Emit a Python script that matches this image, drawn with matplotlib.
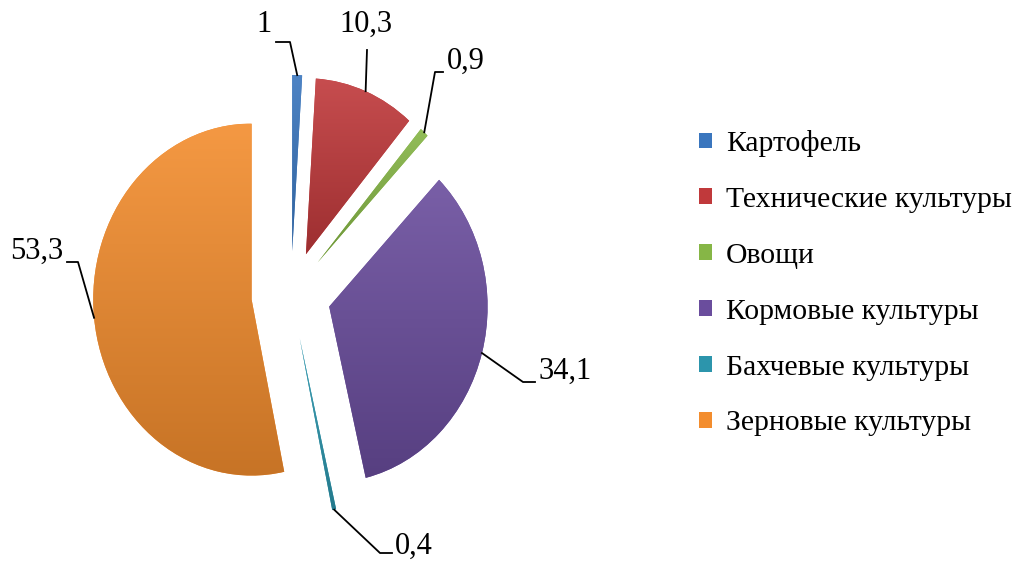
import matplotlib.pyplot as plt
import numpy as np
from matplotlib.colors import to_rgb

# структура посевных площадей, %
categories = ['Картофель', 'Технические культуры', 'Овощи',
              'Кормовые культуры', 'Бахчевые культуры', 'Зерновые культуры']
shares = [1, 10.3, 0.9, 34.1, 0.4, 53.3]
value_labels = ['1', '10,3', '0,9', '34,1', '0,4', '53,3']
colors = ['#3A76BE', '#C0393B', '#86B646', '#6A4D9D', '#2C95AC', '#F38D2E']

W, H = 1017, 563
SX = 0.9  # круг чуть сжат по горизонтали


def px(x, y):
    # пиксели картинки -> координаты осей
    return x / SX, H - y


plt.rcParams['font.family'] = ['Liberation Serif', 'DejaVu Serif']

fig = plt.figure(figsize=(W / 100, H / 100), dpi=100)
ax = fig.add_axes([0, 0, 1, 1])

R = 176
# explode в pie задаётся в единицах данных
wedges, _ = ax.pie(shares, explode=[44] * len(shares), startangle=90,
                   counterclock=False, radius=R, center=px(291, 295),
                   colors=colors, frame=True, wedgeprops=dict(linewidth=0))

# заливка с вертикальным градиентом (светлее сверху, темнее снизу)
for w, c in zip(wedges, colors):
    base = np.array(to_rgb(c))
    top = base + (1 - base) * 0.10
    bot = base * 0.82
    t = np.linspace(0, 1, 64)[:, None]
    grad = top * (1 - t) + bot * t
    img = np.repeat(grad[:, None, :], 2, axis=1)
    ext = w.get_path().get_extents()
    im = ax.imshow(img, extent=(ext.x0, ext.x1, ext.y0, ext.y1),
                   origin='upper', aspect='auto', interpolation='bilinear',
                   zorder=2)
    im.set_clip_path(w)

# подписи значений с выносками
label_pos = [(264, 24), (366, 24), (466, 61), (565, 371), (414, 546), (37, 251)]
leaders = [
    [(290, 42), (276, 42)],
    [(367, 50)],
    [(435, 72), (443, 72)],
    [(523, 382), (535, 382)],
    [(380, 553), (392, 553)],
    [(78, 262), (67, 262)],
]
for w, lab, pos, pts in zip(wedges, value_labels, label_pos, leaders):
    ang = np.deg2rad((w.theta1 + w.theta2) / 2)
    ax_ = w.center[0] + R * np.cos(ang)
    ay_ = w.center[1] + R * np.sin(ang)
    xs = [ax_] + [px(*p)[0] for p in pts]
    ys = [ay_] + [px(*p)[1] for p in pts]
    ax.plot(xs, ys, color='black', lw=1.3, zorder=3)
    ax.text(*px(*pos), lab, fontsize=22, ha='center', va='center', zorder=4)

ax.set_aspect('auto')
ax.set_xlim(0, W / SX)
ax.set_ylim(0, H)
ax.axis('off')

fig.legend(wedges, categories, loc='upper left',
           bbox_to_anchor=(699 / W, 1 - 130 / H), frameon=False,
           fontsize=21.3, handlelength=0.45, handleheight=0.45,
           handletextpad=0.45, labelspacing=1.01, borderpad=0,
           borderaxespad=0)

fig.savefig('out.png', dpi=100)
